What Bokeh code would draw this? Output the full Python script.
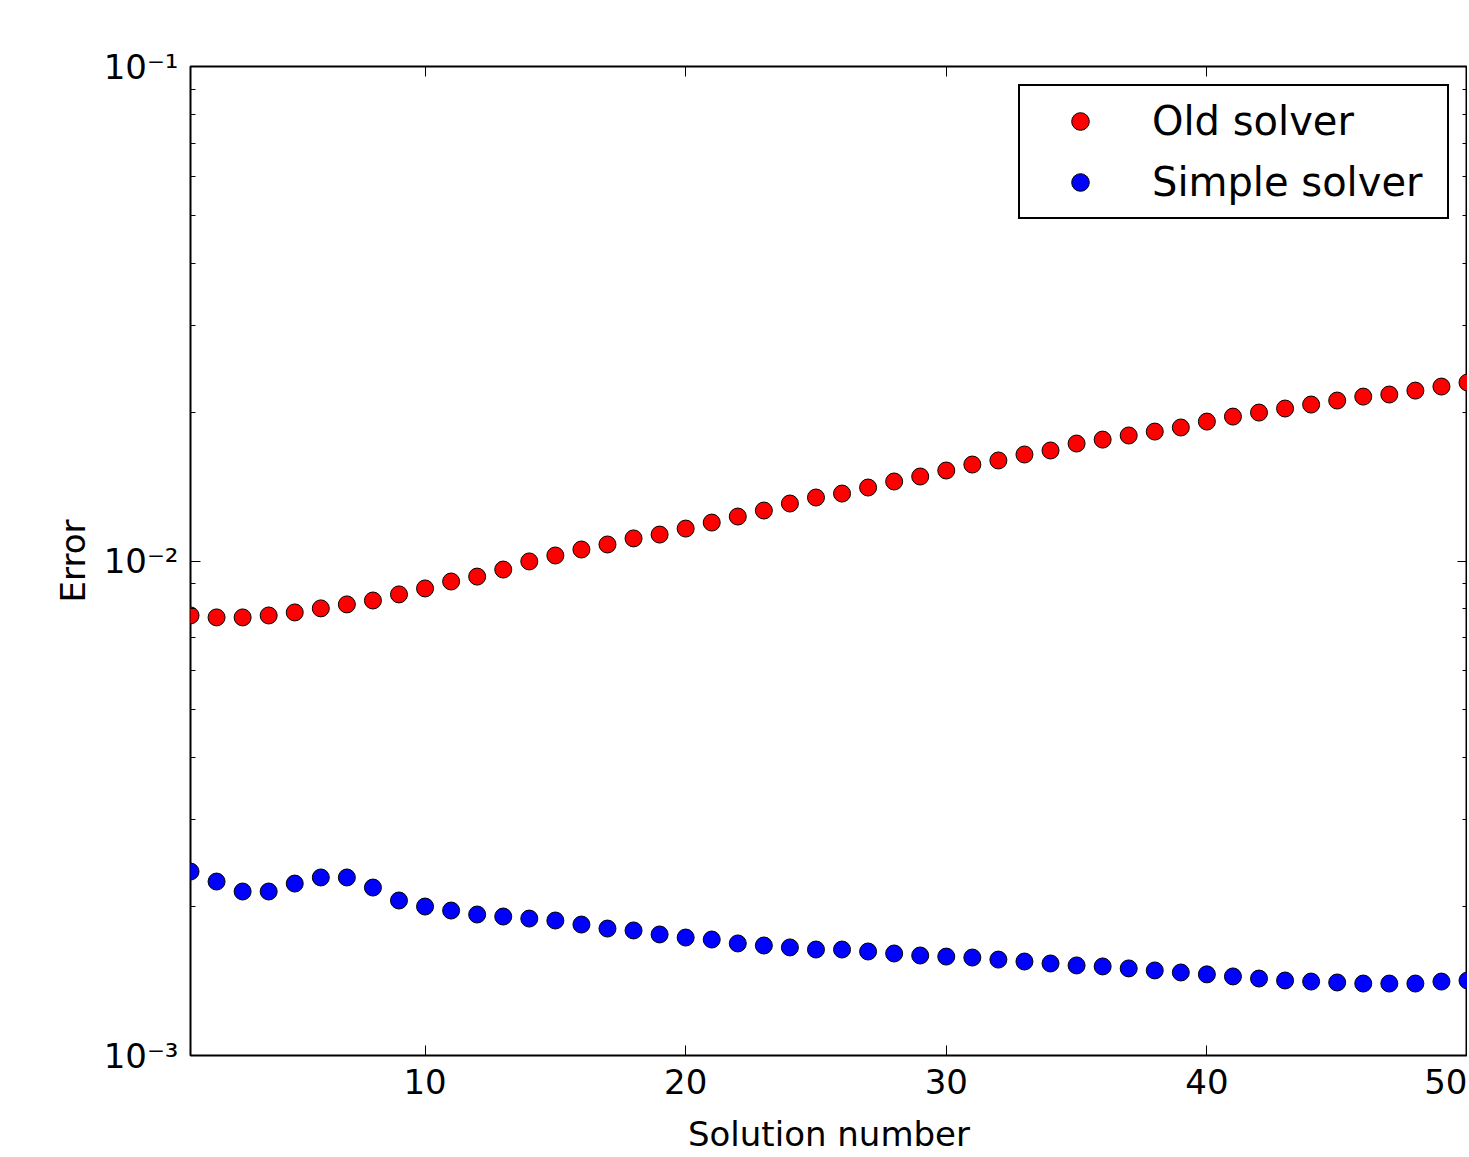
from bokeh.plotting import figure
from bokeh.models import (Range1d, FixedTicker, LinearAxis, LogAxis, CustomJSTickFormatter,
                          Legend, LegendItem, ColumnDataSource)
from bokeh.embed import file_html
from bokeh.resources import INLINE

# ---------------- data ----------------
solution = list(range(1, 51))
old_solver = [0.00776, 0.00769, 0.00769, 0.00776, 0.00787, 0.00802, 0.00817, 0.00832, 0.00856, 0.00880,
              0.00909, 0.00930, 0.00961, 0.00998, 0.01026, 0.01055, 0.01080, 0.01111, 0.01131, 0.01163,
              0.01196, 0.01230, 0.01265, 0.01307, 0.01344, 0.01369, 0.01408, 0.01448, 0.01482, 0.01524,
              0.01567, 0.01597, 0.01642, 0.01673, 0.01728, 0.01760, 0.01794, 0.01827, 0.01862, 0.01914,
              0.01959, 0.01996, 0.02034, 0.02072, 0.02111, 0.02150, 0.02171, 0.02211, 0.02253, 0.02296]
simple_solver = [0.002355, 0.002248, 0.002146, 0.002146, 0.002227, 0.002291, 0.002291, 0.002186, 0.002058, 0.002001,
                 0.001964, 0.001928, 0.001910, 0.001892, 0.001875, 0.001840, 0.001806, 0.001790, 0.001757, 0.001732,
                 0.001716, 0.001685, 0.001669, 0.001654, 0.001638, 0.001638, 0.001623, 0.001608, 0.001593, 0.001585,
                 0.001578, 0.001563, 0.001549, 0.001535, 0.001521, 0.001514, 0.001500, 0.001486, 0.001472, 0.001459,
                 0.001445, 0.001431, 0.001418, 0.001411, 0.001405, 0.001398, 0.001398, 0.001398, 0.001411, 0.001418]
series_names = ["Old solver", "Simple solver"]
x_ticks = [10, 20, 30, 40, 50]
y_ticks = [1e-3, 1e-2, 1e-1]
y_minor_ticks = [m * d for d in (1e-3, 1e-2) for m in range(2, 10)]

FONT = "DejaVu Sans"

p = figure(frame_width=1277, frame_height=989,
           x_range=Range1d(1, 50), y_range=Range1d(1e-3, 1e-1), y_axis_type="log",
           output_backend="svg", toolbar_location=None,
           min_border_left=190, min_border_right=0, min_border_top=66, min_border_bottom=0,
           background_fill_color="white", border_fill_color="white")
p.grid.visible = False
p.outline_line_color = "black"
p.outline_line_width = 2
p.outline_line_alpha = 1.0

bx = p.below[0]
ly = p.left[0]

xt = FixedTicker(ticks=x_ticks, minor_ticks=[])
yt = FixedTicker(ticks=y_ticks, minor_ticks=y_minor_ticks)
yfmt = CustomJSTickFormatter(code="""
const sup = {'-':'\u207b','0':'\u2070','1':'\u00b9','2':'\u00b2','3':'\u00b3','4':'\u2074',
             '5':'\u2075','6':'\u2076','7':'\u2077','8':'\u2078','9':'\u2079'};
const e = Math.round(Math.log10(tick));
return '10' + String(e).split('').map(c => sup[c]).join('');
""")
blank = CustomJSTickFormatter(code="return '';")

top = LinearAxis(ticker=xt, formatter=blank)
right = LogAxis(ticker=yt, formatter=blank)
p.add_layout(top, "above")
p.add_layout(right, "right")

bx.ticker = xt
ly.ticker = yt
ly.formatter = yfmt

for ax in [bx, ly, top, right]:
    ax.axis_line_color = None
    ax.major_tick_in = 10
    ax.major_tick_out = 0
    ax.minor_tick_in = 5
    ax.minor_tick_out = 0
    ax.major_tick_line_color = "black"
    ax.minor_tick_line_color = "black"
    ax.major_tick_line_width = 1
    ax.minor_tick_line_width = 1
    ax.major_label_text_font = FONT
    ax.major_label_text_color = "black"
    ax.axis_label_text_font = FONT
    ax.axis_label_text_font_style = "normal"
    ax.axis_label_text_color = "black"

for ax in [top, right]:
    ax.major_label_text_font_size = "1px"
    ax.major_label_standoff = 0

bx.axis_label = "Solution number"
bx.major_label_text_font_size = "34px"
bx.axis_label_text_font_size = "34px"
bx.major_label_standoff = 13
bx.axis_label_standoff = 17

ly.axis_label = "Error"
ly.major_label_text_font_size = "34px"
ly.axis_label_text_font_size = "34px"
ly.major_label_standoff = 12
ly.axis_label_standoff = 8

src = ColumnDataSource(dict(x=solution, old=old_solver, simple=simple_solver))
r_old = p.scatter("x", "old", source=src, marker="circle", size=17,
                  fill_color="#ff0000", line_color="black", line_width=1)
r_simple = p.scatter("x", "simple", source=src, marker="circle", size=17,
                     fill_color="#0000ff", line_color="black", line_width=1)

legend = Legend(items=[LegendItem(label=series_names[0], renderers=[r_old]),
                       LegendItem(label=series_names[1], renderers=[r_simple])],
                location="top_right")
legend.label_text_font = FONT
legend.label_text_font_size = "40px"
legend.label_text_color = "black"
legend.glyph_height = 44
legend.glyph_width = 96
legend.label_standoff = 24
legend.label_width = 283
legend.padding = 12
legend.spacing = 15
legend.margin = 18
legend.border_line_color = "black"
legend.border_line_width = 2
legend.border_line_alpha = 1.0
legend.background_fill_color = "white"
legend.background_fill_alpha = 1.0
p.add_layout(legend, "center")

open("out.html", "w").write(file_html(p, INLINE))
